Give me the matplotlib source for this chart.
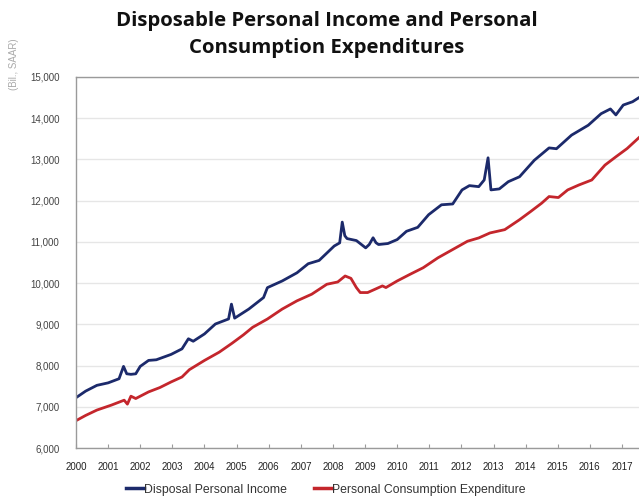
import matplotlib
matplotlib.use("Agg")
import matplotlib.pyplot as plt
from matplotlib.ticker import FuncFormatter

# Disposable Personal Income (Bil., SAAR)
dpi_years = [2000.0, 2000.3, 2000.65, 2001.0, 2001.34, 2001.48, 2001.58, 2001.71, 2001.86,
             2002.0, 2002.26, 2002.5, 2002.96, 2003.3, 2003.5, 2003.65, 2004.0, 2004.34,
             2004.75, 2004.84, 2004.94, 2005.38, 2005.84, 2005.96, 2006.42, 2006.88,
             2007.23, 2007.57, 2008.04, 2008.21, 2008.29, 2008.37, 2008.44, 2008.73,
             2009.02, 2009.13, 2009.25, 2009.34, 2009.42, 2009.71, 2010.0, 2010.29,
             2010.64, 2010.98, 2011.38, 2011.73, 2012.02, 2012.25, 2012.54, 2012.71,
             2012.83, 2012.92, 2013.18, 2013.46, 2013.81, 2014.27, 2014.73, 2014.96,
             2015.43, 2015.95, 2016.35, 2016.64, 2016.81, 2017.04, 2017.33, 2017.53]
dpi_values = [7220, 7380, 7520, 7580, 7680, 7980, 7800, 7787, 7800,
              7980, 8125, 8140, 8270, 8405, 8650, 8590, 8767, 9008,
              9130, 9490, 9150, 9370, 9650, 9890, 10052, 10250,
              10470, 10550, 10900, 10976, 11480, 11150, 11080, 11032,
              10855, 10936, 11100, 10980, 10936, 10960, 11056, 11257,
              11353, 11660, 11900, 11920, 12261, 12365, 12340, 12502,
              13040, 12261, 12285, 12460, 12580, 12980, 13280, 13260,
              13590, 13830, 14110, 14225, 14080, 14320, 14400, 14500]

# Personal Consumption Expenditure (Bil., SAAR)
pce_years = [2000.0, 2000.3, 2000.65, 2001.1, 2001.5, 2001.6, 2001.71, 2001.86, 2002.26,
             2002.61, 2002.96, 2003.3, 2003.53, 2004.0, 2004.46, 2004.86, 2005.21,
             2005.5, 2005.96, 2006.42, 2006.88, 2007.34, 2007.81, 2008.15, 2008.38,
             2008.56, 2008.73, 2008.85, 2009.08, 2009.31, 2009.54, 2009.65, 2010.0,
             2010.4, 2010.81, 2011.27, 2011.73, 2012.19, 2012.54, 2012.89, 2013.35,
             2013.81, 2014.16, 2014.5, 2014.73, 2015.02, 2015.31, 2015.66, 2016.06,
             2016.47, 2016.81, 2017.16, 2017.53]
pce_values = [6663, 6790, 6920, 7040, 7160, 7064, 7257, 7200, 7361,
              7466, 7602, 7723, 7900, 8124, 8325, 8542, 8743,
              8928, 9129, 9370, 9570, 9731, 9972, 10028, 10173,
              10116, 9892, 9771, 9771, 9851, 9932, 9892, 10052,
              10213, 10373, 10614, 10815, 11016, 11096, 11217, 11297,
              11538, 11739, 11940, 12100, 12076, 12261, 12381, 12502,
              12863, 13064, 13265, 13530]

year_labels = [str(y) for y in range(2000, 2018)]
y_ticks = list(range(6000, 15001, 1000))

title = "Disposable Personal Income and Personal\nConsumption Expenditures"
y_label = "(Bil., SAAR)"
series_names = ["Disposal Personal Income", "Personal Consumption Expenditure"]

plt.rcParams['font.family'] = ['Liberation Sans', 'DejaVu Sans']

fig = plt.figure(figsize=(6.39, 4.97), dpi=100)
ax = fig.add_axes([76 / 639, 49 / 497, (639 - 76) / 639, 371 / 497])

ax.plot(dpi_years, dpi_values, color="#1c2a6b", lw=2.0, label=series_names[0], solid_joinstyle="round")
ax.plot(pce_years, pce_values, color="#c4262c", lw=2.0, label=series_names[1], solid_joinstyle="round")

ax.set_xlim(2000, 2017.53)
ax.set_ylim(6000, 15000)
ax.set_yticks(y_ticks)
ax.yaxis.set_major_formatter(FuncFormatter(lambda v, p: f"{int(v):,}"))
ax.set_xticks(list(range(2000, 2018)))
ax.set_xticklabels(year_labels)

ax.grid(axis="y", color="#e6e6e6", lw=1.0)
ax.set_axisbelow(True)
for s in ["left", "top", "bottom"]:
    ax.spines[s].set_color("#9a9a9a")
    ax.spines[s].set_linewidth(1.0)
ax.spines["right"].set_visible(False)

ax.tick_params(axis="y", length=0, labelsize=7, labelcolor="#444444", pad=12)
ax.tick_params(axis="x", direction="in", length=3, color="#9a9a9a", labelsize=7,
               labelcolor="#222222", pad=10)

fig.text(0.022, 0.87, y_label, rotation=90, fontsize=7, color="#aaaaaa", ha="center", va="center")

fig.text(0.511, 0.93, title, ha="center", va="center", fontsize=14.7, fontweight="bold",
         family=["Open Sans", "DejaVu Sans"], color="#111111", linespacing=1.45)

leg = fig.legend(loc="center", bbox_to_anchor=(0.51, 0.015), ncol=2, frameon=False,
                 fontsize=8.8, handlelength=1.5, handletextpad=0.0, columnspacing=2.2)
for t in leg.get_texts():
    t.set_color("#333333")
for l in leg.get_lines():
    l.set_linewidth(2.5)

fig.savefig("out.png", dpi=100)
